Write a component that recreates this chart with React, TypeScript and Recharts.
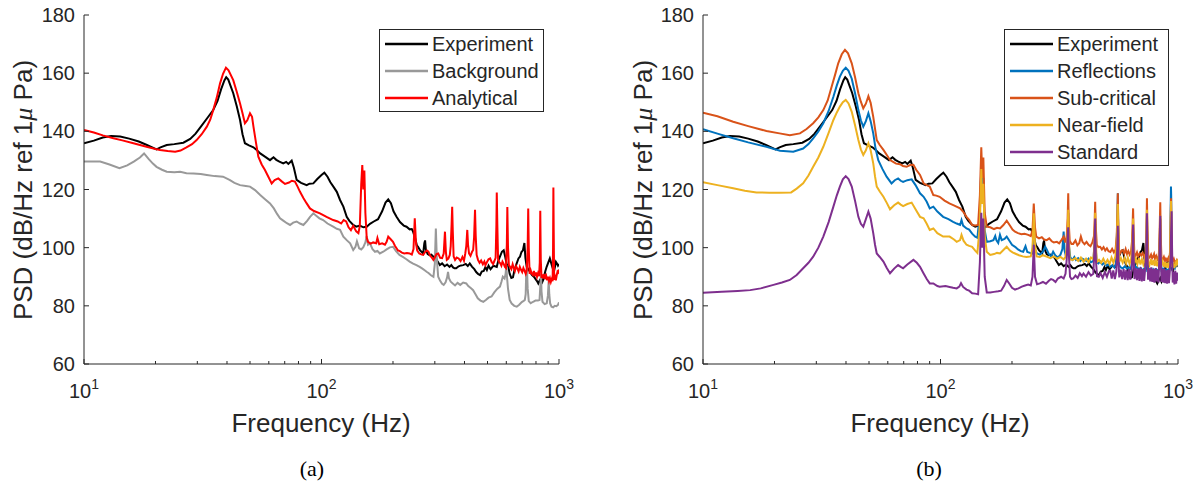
import { LineChart, Line, XAxis, YAxis, Legend } from "recharts";

type Pt = [number, number];

// [frequency Hz, PSD dB]
const experiment: Pt[] = [
  [10, 135.9], [11, 136.8], [12, 137.9], [13, 138.4], [14.2, 138.2], [15.5, 137.5], [17, 136.5], [18.4, 135.3],
  [20.2, 133.8], [21, 134.5], [22.3, 135.3], [24, 135.6], [26.2, 136.1], [28, 137.4], [29.5, 139.2], [31, 141.5],
  [33, 144.5], [35, 147.3], [36.5, 150.5], [37.8, 154.5], [39, 157.5], [39.7, 158.6], [40.5, 157.8], [42.5, 153.1],
  [44, 148.5], [45.4, 143.9], [46.5, 139], [47.6, 135.9], [49.5, 135.2], [51.7, 134.5], [53.5, 133.5], [55.2, 132.4],
  [58, 131.2], [60.7, 130.1], [62.8, 131.1], [64.5, 130.2], [66.5, 129.6], [69, 129], [71, 129.5], [72.5, 128.8],
  [74.9, 129.9], [76.5, 127.5], [78.6, 123.3], [82, 122.3], [86.6, 121.5], [89, 122], [92.4, 122.1], [96, 123.6],
  [100, 125], [102.8, 125.8], [106, 124.4], [109, 122.5], [112.2, 121], [116, 119.2], [119.7, 116.4], [123.6, 114.1],
  [127.7, 110.6], [131, 109.2], [136, 107.8], [140, 107.2], [145, 107.6], [150, 107], [155, 107.2], [160, 108.2],
  [166, 109], [173, 109.8], [180, 112.5], [186, 115.5], [191, 116.6], [196, 115.3], [201, 112.5], [207, 110.6],
  [214, 108.8], [222, 107.6], [228, 107.2], [235, 106.3], [240, 106.4], [243, 105.5], [248, 103.2], [252, 100.8],
  [255, 100.3], [260, 99.1], [265, 98.4], [268, 98], [271, 101.5], [273, 102.5], [275, 99.3], [280, 97.8],
  [285, 97.4], [290, 97.6], [296, 96.9], [302, 96.6], [308, 95.3], [315, 94], [322, 94.6], [330, 93.6],
  [338, 94.2], [346, 93.4], [352, 94], [358, 93.2], [363, 92.9], [369, 92.9], [378, 93.6], [387, 93.9],
  [395, 94], [405, 94.4], [413, 93.7], [421, 94.6], [430, 93.5], [440, 92.6], [448, 91.6], [456, 91],
  [465, 90.6], [473, 91.8], [482, 92], [490, 93.3], [497, 92.3], [505, 93.8], [515, 92.6], [530, 93.8],
  [547, 93.4], [555, 95.5], [564, 96.9], [575, 98.6], [585, 99.1], [593, 97], [602, 94.4], [612, 93.4],
  [620, 91], [630, 89.6], [640, 89.8], [650, 92.5], [663, 94.5], [675, 96.3], [685, 96.9], [695, 98.5],
  [705, 99.1], [715, 101.6], [722, 96.5], [731, 93.4], [745, 92.4], [757, 91.5], [770, 90.6], [784, 90],
  [797, 89.2], [808, 88.5], [818, 87.7], [830, 88.8], [842, 89.6], [852, 88.3], [862, 89.3], [875, 91.8],
  [888, 93.5], [900, 94.8], [915, 96.3], [928, 94.6], [940, 93], [952, 91.8], [962, 93.5], [971, 95.1],
  [980, 94.6], [990, 93.8], [1000, 94.4],
];

const background: Pt[] = [
  [10, 129.6], [11.7, 129.6], [12.8, 128.6], [14.1, 127.3], [15.2, 128.3], [16.2, 129.6], [17.2, 131], [17.9, 132.4],
  [18.7, 130.5], [19.5, 128.9], [20.2, 127.8], [21.3, 126.8], [22.3, 126.1], [24, 125.9], [25.4, 126.1], [27, 125.6],
  [28.9, 125.5], [31, 125.3], [32.9, 125], [35.5, 124.6], [38.5, 124.4], [41, 123.3], [43, 122.3], [45.4, 121.5],
  [48, 121.2], [50, 121], [52.5, 119.8], [55.2, 118.1], [58, 116.6], [60.7, 115.2], [63, 113.5], [65, 111.6],
  [66.9, 110.1], [69, 109.3], [71.5, 108.4], [73.7, 107.8], [76, 108.6], [78.6, 109], [81.2, 108.3], [83.9, 107.8],
  [87, 109.2], [89.5, 110.6], [92.4, 111.8], [95, 111], [98, 110.1], [101.6, 109.5], [106, 108.3], [112, 107.2],
  [116, 106.5], [119.7, 106.1], [123.6, 103.8], [128, 102.5], [132, 101.5], [136, 99.2], [139, 100.3], [141, 102.2],
  [144, 99.8], [147, 99.4], [150, 100.2], [153, 101.8], [155, 104], [157, 101], [160, 101.5], [164, 99.5],
  [168, 98.6], [172, 98.9], [176, 98], [182, 98.6], [188, 99.4], [194, 100.1], [200, 100.3], [206, 98.8],
  [213, 97.5], [220, 96.8], [227, 96.1], [235, 95.2], [243, 94.5], [251, 94], [259, 93.4], [266, 92.8],
  [271, 92.3], [277, 91.7], [283, 91.2], [289, 90.5], [296, 90], [300, 94.5], [303, 106.6], [306, 96],
  [310, 90], [316, 88.6], [322, 87.6], [327, 87.2], [333, 88.1], [338, 89.8], [341, 91.7], [344, 89.5],
  [350, 88.3], [357, 87.7], [365, 87], [374, 87.9], [384, 87.2], [395, 88], [407, 87.7], [415, 86.8],
  [425, 86.1], [435, 85.4], [445, 84], [455, 82.6], [467, 81.8], [480, 81.4], [492, 82], [505, 82.8],
  [520, 83.2], [534, 84.6], [549, 85.8], [564, 86.6], [572, 88.2], [580, 90], [590, 89.4], [596, 91],
  [600, 94], [604, 90], [610, 85.8], [620, 82], [632, 80.8], [648, 80], [664, 79.7], [680, 80.4],
  [697, 81.3], [710, 81.7], [718, 82], [724, 84], [728, 92], [733, 93.4], [738, 86], [746, 81.6],
  [760, 80.9], [778, 81.4], [796, 81.8], [815, 81.8], [828, 82], [836, 88], [840, 91.1], [844, 85],
  [852, 81.4], [870, 80.6], [888, 80.9], [898, 83.5], [905, 88.8], [910, 84], [918, 80.8], [930, 79.7],
  [945, 79.5], [960, 80], [975, 79.9], [990, 80.3], [1000, 81.2],
];

const analytical: Pt[] = [
  [10, 140.5], [11, 139.6], [12, 138.6], [13.3, 137.6], [14.5, 136.9], [16, 136], [17.2, 135.3], [18.5, 134.6],
  [20, 133.9], [20.9, 133.6], [22.5, 133.2], [24.2, 133], [25.5, 133.4], [27, 134.5], [28.5, 135.6], [29.8, 137],
  [31.3, 139], [32.9, 141.6], [34, 144], [35, 147.3], [36.2, 151.5], [37.4, 156.5], [38.5, 159.8], [39.6, 161.9],
  [40.6, 161], [42.5, 157.6], [44, 153.5], [45.4, 149.6], [46.5, 146.2], [47.6, 142.8], [48.7, 143.8], [50, 146.2],
  [51, 145], [51.7, 141.6], [53, 136], [54.2, 131.3], [56, 128.6], [57.8, 126.7], [59.8, 124.3], [61.7, 122.1],
  [63.5, 123.2], [65.8, 123.8], [68, 122.8], [70.2, 121.9], [73, 122.4], [75, 123], [77.3, 122.7], [79.3, 121],
  [81.2, 119.2], [84, 117], [86.5, 115.3], [89.4, 113.5], [93, 112.6], [98.5, 111.8], [105, 110.6], [112, 109.5],
  [117, 109], [121, 108.3], [124, 109.5], [127, 109], [130, 107], [133, 106], [136, 107.5], [140, 105.6],
  [143, 105], [145, 107.5], [147, 122], [148.5, 128.4], [150, 120], [151.5, 126.5], [153, 112], [155, 103.5],
  [157, 102], [161, 101.4], [165, 101.8], [170, 101.5], [172, 103.3], [175, 101.2], [180, 101.5], [185, 101],
  [188, 102], [191, 103.8], [196, 102.8], [200, 102], [204, 100.6], [207, 99.8], [210, 99], [213, 98.9],
  [218, 98.3], [223, 98], [229, 98.2], [235, 98], [240, 97.6], [244, 99.5], [247, 110.1], [250, 101.5],
  [253, 99], [258, 98], [263, 97.7], [268, 97.5], [273, 98.5], [278, 99], [282, 98.6], [287, 97.2],
  [292, 96.5], [296, 95.8], [300, 96.6], [305, 97.8], [310, 98], [316, 96.5], [322, 96.4], [327, 98],
  [331, 105.5], [334, 98.5], [337, 95.8], [342, 96.2], [347, 97.5], [350, 100.5], [353, 108], [355, 114.1],
  [357, 106], [360, 97], [365, 95.8], [371, 96.6], [378, 96.3], [385, 95.4], [392, 96.8], [398, 95.5],
  [403, 98], [407, 100.5], [411, 106.1], [414, 101], [418, 98], [424, 97.2], [430, 98.5], [435, 99.2],
  [439, 103.5], [443, 113], [446, 104], [450, 97.5], [456, 95.8], [463, 94.8], [470, 95.6], [478, 94.3],
  [485, 95.2], [490, 94], [497, 95], [505, 96], [513, 96.3], [520, 95.1], [528, 94.4], [535, 95.5],
  [541, 96.5], [545, 108], [547, 119], [550, 108], [554, 96], [560, 95], [566, 94.6], [572, 93.8],
  [578, 95.2], [585, 94.4], [592, 93.4], [598, 93], [603, 101], [606, 114], [610, 100], [615, 94],
  [622, 93.4], [630, 92.6], [638, 94.3], [645, 93], [652, 92], [660, 93.6], [668, 92.8], [676, 91.8],
  [684, 93.4], [692, 92.4], [700, 91.6], [708, 93], [716, 92], [724, 91], [732, 92.4], [738, 100],
  [742, 113.5], [746, 100], [752, 91], [760, 92.2], [768, 91], [776, 90.6], [784, 92], [792, 90.2],
  [800, 91.5], [808, 90], [816, 91.2], [824, 90.2], [830, 95], [834, 112.7], [838, 96], [844, 89.6],
  [852, 90.8], [860, 89.4], [868, 91], [876, 89.2], [884, 90.2], [892, 88.8], [900, 90], [908, 88.5],
  [916, 89.5], [924, 88.2], [932, 89.2], [940, 88.5], [944, 100], [947, 120.7], [950, 106], [954, 89],
  [962, 90], [970, 88.8], [978, 90.5], [986, 91.8], [994, 91.5], [1000, 92.5],
];

const reflections: Pt[] = [
  [10, 140.7], [11.5, 139.2], [13.4, 137.6], [15.5, 136.2], [18.5, 134.7], [21.1, 133.3], [24, 133], [26.4, 134.1],
  [27.8, 135.6], [29.1, 137.6], [30.6, 140], [32.1, 142.8], [33.8, 147], [35.4, 151.9], [36.6, 155.8], [37.7, 158.8],
  [38.8, 160.8], [39.9, 161.9], [41, 160.8], [42.3, 158.1], [43.7, 153], [45.1, 147.3], [46.2, 143.8], [47.3, 141.6],
  [48.5, 143.5], [49.7, 146.2], [50.8, 143.5], [52.1, 139.3], [53.3, 134], [54.7, 130.1], [57, 127], [59.3, 124.4],
  [62.2, 122.1], [64.2, 123.2], [66.3, 123.8], [68, 123], [69.6, 122.6], [72.5, 123.2], [75.6, 123.5], [78.5, 121.5],
  [82, 118.7], [84.9, 117.5], [87.5, 115.8], [90.1, 113.5], [93.3, 114.1], [97, 112.4], [102.6, 110.6], [108, 109.8],
  [113, 108.9], [117, 108.3], [120.9, 107.8], [122.6, 109.5], [124.5, 107.6], [128.7, 106.6], [132, 106.2], [135.9, 104.8],
  [140, 103.8], [143, 103.4], [146.5, 112], [148.5, 128], [150, 118], [151.5, 124], [153.5, 106], [156.6, 102],
  [162, 102.2], [167, 102.6], [170, 104], [172, 102.5], [175, 101.6], [178, 104.4], [181, 102.6], [186, 103],
  [190, 103.8], [195, 102.4], [200, 101], [206, 100.3], [212, 99.4], [218, 98.8], [223, 98.6], [228, 100.5],
  [232, 98.5], [238, 98.2], [244, 98], [247, 108], [250, 99.2], [255, 98], [262, 97.6], [270, 98.6],
  [276, 100.3], [280, 99.4], [286, 97.8], [292, 97], [298, 98.6], [304, 97.4], [312, 96.6], [320, 97.6],
  [326, 99.5], [330, 105.5], [333, 99], [338, 96.9], [343, 100], [345, 112], [347, 101], [352, 96.6],
  [360, 95.8], [366, 96.8], [372, 95.8], [380, 96.4], [388, 95.4], [396, 96.2], [404, 95.8], [412, 95.4],
  [420, 96.2], [430, 95], [440, 95.4], [446, 102], [448, 110], [450, 100], [455, 95], [462, 94.6],
  [470, 95.2], [480, 94.2], [490, 94.8], [500, 93.8], [510, 94.2], [519, 93.4], [530, 94], [540, 93.2],
  [548, 94.6], [553, 104], [556, 112], [558, 118.7], [560, 108], [565, 94], [574, 93.2], [586, 92.9],
  [598, 93.6], [610, 92.8], [622, 93.4], [634, 92.6], [642, 96], [647, 108], [652, 96], [660, 92.8],
  [672, 93.4], [684, 92.4], [696, 93], [708, 92.2], [720, 92.8], [732, 92.3], [737, 100], [740, 112],
  [743, 100], [750, 92], [762, 92.6], [774, 91.8], [786, 92.6], [798, 92], [810, 92.6], [822, 92],
  [834, 92.6], [838, 100], [842, 110], [846, 98], [852, 92.3], [866, 92.8], [880, 92], [894, 92.6],
  [906, 92], [918, 92.8], [926, 96], [930, 110], [934, 121], [936, 118], [940, 100], [946, 93],
  [958, 93.6], [970, 93], [980, 94.6], [990, 94], [1000, 94.4],
];

const subCritical: Pt[] = [
  [10, 146.4], [11.5, 145.2], [13.4, 143.3], [15.5, 141.8], [18.5, 140.1], [21, 139.3], [23.2, 138.7], [25.6, 139.3],
  [27.3, 140.8], [29.1, 142.8], [30.6, 144.8], [32.1, 147.3], [33.5, 150.6], [34.8, 155.3], [36, 159.5], [37.1, 163.4],
  [38.4, 166.5], [39.6, 168], [40.8, 166.8], [42.3, 163.4], [43.7, 158.5], [45.1, 153.1], [46.2, 150.2], [47.3, 147.9],
  [48.5, 149.5], [49.7, 152.1], [50.8, 149.8], [52.1, 145], [53.9, 137], [55.5, 135.3], [57.5, 133.6], [59.5, 131.8],
  [61.3, 130.1], [63.2, 129.5], [65, 128.9], [67.5, 128.7], [69.5, 128.1], [72, 127.8], [74.5, 128.4], [76.9, 128.5],
  [79, 126.8], [82, 125], [84.9, 122.1], [87.5, 121.5], [90.1, 121], [93.3, 118.1], [96, 117.9], [99.2, 117.5],
  [104, 116.2], [109, 115.2], [115, 114.4], [120.9, 113.5], [125, 112.2], [128.7, 110.6], [132, 109.6], [135.9, 107.8],
  [140, 107.6], [144, 107.8], [146.5, 118], [148.5, 134.5], [150, 124], [151.5, 131], [153.5, 112], [156.6, 107.2],
  [162, 107], [168, 106.4], [173, 106.8], [178, 106.6], [184, 107.8], [190, 109.3], [196, 107.6], [201, 106.2],
  [206, 105.5], [212, 105], [219, 104.6], [226, 104.8], [234, 104.4], [240, 104], [244, 106], [247, 115.2],
  [250, 107], [253, 103.8], [260, 103.2], [267, 103.6], [273, 102.8], [280, 102.6], [287, 103.2], [294, 102.2],
  [300, 101.8], [309, 102], [316, 101.5], [323, 102.6], [330, 103.8], [335, 101.8], [340, 104], [343, 110],
  [345, 118.7], [347, 108], [350, 102.4], [356, 101.3], [362, 101.3], [370, 102.5], [377, 100.8], [384, 101.6],
  [390, 103.8], [396, 102], [404, 101.2], [412, 102], [420, 101], [428, 100.5], [436, 101.8], [443, 104],
  [446, 110], [448, 115.8], [450, 108], [455, 101], [462, 100.2], [470, 100.3], [478, 99.4], [486, 100.2],
  [494, 99], [502, 99.8], [510, 98.8], [519, 98.5], [528, 99.6], [537, 98.4], [546, 99.4], [552, 104],
  [556, 112], [558, 118.7], [560, 110], [565, 99], [572, 98.2], [580, 99.1], [586, 99.1], [594, 98],
  [602, 99.5], [610, 97.8], [618, 98.8], [626, 97.6], [634, 98.6], [640, 102], [644, 108], [647, 113.5],
  [650, 106], [655, 98], [663, 97.2], [672, 98.4], [680, 97], [690, 98], [700, 97.3], [710, 98.2],
  [720, 96.8], [730, 97.8], [736, 104], [740, 117], [744, 106], [750, 97], [760, 96.6], [770, 97.6],
  [778, 96.4], [785, 96.9], [793, 97.8], [800, 96.2], [810, 97.2], [820, 96], [830, 97], [836, 104],
  [842, 115.6], [846, 104], [852, 96], [862, 95.8], [872, 96.8], [882, 95.4], [890, 96.2], [900, 95.5],
  [910, 96.4], [920, 95.2], [928, 100], [932, 110], [935, 117], [938, 108], [942, 96], [950, 95.4],
  [960, 96.2], [970, 95], [980, 95], [990, 95.8], [1000, 95.2],
];

const nearField: Pt[] = [
  [10, 122.5], [11.5, 121.5], [13.4, 120.4], [15, 119.6], [16.8, 119], [19, 118.9], [21, 118.9], [23.5, 119],
  [24.8, 120.3], [26.4, 122.1], [27.8, 124.8], [29.1, 127.8], [30.6, 131], [32.1, 134.7], [33.8, 139.5], [35.4, 143.9],
  [36.6, 146.5], [37.7, 148.5], [38.8, 150], [39.9, 150.8], [41, 149.6], [42.3, 146.7], [43.7, 142], [45.1, 137],
  [46.2, 133.8], [47.3, 131.9], [48.5, 133.5], [49.7, 135.9], [50.8, 133.5], [52.1, 129], [53, 124.5], [53.9, 121],
  [55.5, 119.3], [57.5, 117.5], [59.4, 115.4], [61.3, 113.2], [63.8, 114.6], [66.3, 115.5], [68, 114.8], [69.6, 114.3],
  [72.5, 115], [75.6, 115.5], [78.5, 113.2], [82, 110.6], [84.9, 110.1], [87.5, 108.2], [90.1, 106.1], [93.3, 106.6],
  [97, 105], [102.6, 103.8], [109.2, 103.8], [114, 102.8], [117, 102], [120.9, 102.6], [122.6, 104.4], [125, 102.4],
  [128.7, 101], [132, 100.6], [135.9, 100.3], [140, 99], [143, 98.2], [146.5, 108], [148.5, 127], [150, 115],
  [151.5, 122], [153.5, 104], [156.6, 98.6], [162, 97.5], [168, 97.8], [173, 98.2], [178, 98], [184, 99.2],
  [190, 100.3], [196, 99], [201, 98.4], [206, 98], [214, 97.4], [222, 97], [230, 96.8], [234, 96.9],
  [240, 97], [244, 100], [247, 111.8], [250, 101], [254, 97], [262, 96.8], [270, 97.4], [280, 96.9],
  [290, 96.4], [300, 97], [310, 96.2], [320, 96.8], [330, 96], [336, 96.8], [340, 100], [343, 106],
  [345, 113], [347, 104], [350, 96], [360, 95.8], [370, 96.4], [380, 95.4], [390, 96.6], [400, 95.2],
  [410, 96.2], [420, 95], [430, 96.6], [440, 96], [444, 100], [448, 112], [451, 102], [455, 95],
  [465, 95.8], [475, 94.8], [485, 96.2], [495, 94.6], [505, 95.8], [515, 94.4], [525, 96.6], [535, 94.8],
  [545, 97], [552, 102], [556, 110], [558, 115], [560, 106], [565, 95], [575, 96.4], [585, 94.8],
  [595, 96.4], [605, 94.6], [615, 96.6], [625, 94.4], [635, 96.2], [641, 101], [645, 106], [647, 110],
  [650, 102], [655, 94.6], [665, 96.2], [675, 94.4], [685, 96.4], [695, 94.2], [705, 96], [715, 94.2],
  [725, 95.8], [732, 98], [736, 106], [740, 113], [743, 104], [748, 95], [758, 94], [768, 96],
  [778, 94], [788, 95.8], [798, 93.8], [808, 95.4], [818, 93.6], [828, 95.2], [835, 101], [839, 106],
  [842, 111], [846, 100], [852, 94], [862, 95.2], [872, 93.4], [882, 95], [892, 93.2], [902, 94.8],
  [912, 93], [922, 94.8], [928, 102], [932, 110], [935, 116], [938, 106], [944, 94], [955, 94.4],
  [965, 93], [975, 94.6], [985, 93.6], [993, 96], [1000, 94],
];

const standard: Pt[] = [
  [10, 84.5], [12, 84.8], [14, 85.1], [15.8, 85.4], [17.5, 86], [19.8, 87.2], [21.5, 88], [23.2, 88.9],
  [24.8, 90.6], [26.4, 92.9], [27.8, 94.8], [29.1, 96.9], [30.6, 100], [32.1, 103.8], [33.8, 108.8], [35.4, 114.1],
  [36.6, 118], [37.7, 121], [38.8, 123.5], [39.9, 124.6], [41, 123.6], [42.3, 121], [43.7, 116], [45.1, 110.6],
  [46.2, 108.2], [47.3, 107.2], [48.5, 109.8], [49.7, 112.4], [50.8, 110], [52.1, 105], [53, 101], [53.9, 98],
  [55.5, 96.8], [57.5, 95.2], [59.4, 93], [61.3, 91.2], [63.8, 92.8], [66.3, 94], [68, 93.4], [69.6, 92.9],
  [72.5, 94.2], [76.9, 95.8], [79.5, 94.8], [82, 93.4], [84.9, 91.1], [87.5, 89.2], [90.1, 87.7], [93.3, 87.7],
  [97, 86.8], [99.2, 86.6], [105, 86.8], [109.2, 86.5], [113, 86.2], [117, 86], [120, 86.6], [122, 87.8],
  [124.5, 86.5], [128.7, 85.6], [132, 85.2], [135.9, 84.3], [140, 84.2], [144, 84], [146.5, 95], [148.5, 112],
  [150, 100], [151.5, 110], [153.5, 90], [156.6, 84.6], [162, 84.6], [168, 84.8], [175, 85], [180, 85.2],
  [185, 86.8], [190, 88.9], [195, 87.6], [200, 86.2], [206, 85.6], [213, 86], [220, 86.6], [227, 87],
  [234, 87.3], [240, 87], [244, 90], [247, 101], [250, 90], [255, 87.4], [262, 87.7], [270, 88.2],
  [278, 87.6], [286, 88.6], [292, 89.2], [298, 88.9], [305, 88.2], [312, 89.4], [322, 90], [330, 89.4],
  [336, 91], [340, 96], [343, 104], [345, 107], [347, 98], [351, 90], [356, 89.2], [362, 89.4],
  [370, 90.4], [378, 89.6], [386, 91.2], [394, 90.2], [400, 91.1], [410, 90], [420, 91.6], [430, 90.4],
  [440, 91], [444, 98], [448, 110], [451, 96], [456, 90.2], [464, 90], [472, 91.2], [482, 89.6],
  [492, 91.6], [502, 90], [512, 92], [519, 92], [526, 89.4], [534, 92.2], [542, 89.2], [550, 91.8],
  [554, 98], [558, 107.5], [561, 96], [566, 89.8], [574, 92.4], [582, 89.2], [590, 92.6], [598, 89],
  [606, 92.4], [614, 88.8], [622, 92.6], [630, 89], [638, 92.4], [643, 98], [647, 108], [651, 96],
  [656, 89.2], [664, 93], [672, 88.8], [680, 92.8], [688, 88.6], [696, 93.2], [704, 88.4], [712, 92.6],
  [720, 88.6], [728, 93], [734, 98], [738, 106], [740, 111.8], [743, 100], [748, 89], [756, 92.8],
  [764, 88.4], [772, 93.2], [780, 88.2], [788, 92.6], [796, 88], [804, 93], [812, 88.4], [820, 92.4],
  [828, 88], [834, 96], [838, 104], [842, 111], [846, 98], [852, 88.2], [860, 92.6], [868, 88],
  [876, 92.8], [884, 87.8], [892, 92.2], [900, 87.6], [908, 92.4], [916, 87.8], [924, 92], [930, 96],
  [935, 105], [940, 112.5], [944, 100], [950, 88], [958, 91.6], [966, 87.4], [974, 92], [982, 87.6],
  [990, 91.4], [1000, 88.6],
];

const xTicks = [10, 20, 30, 40, 50, 60, 70, 80, 90, 100, 200, 300, 400, 500, 600, 700, 800, 900, 1000];
const yTicks = [60, 80, 100, 120, 140, 160, 180];

const seriesA = [
  { name: "Experiment", color: "#000000", pts: experiment },
  { name: "Background", color: "#999999", pts: background },
  { name: "Analytical", color: "#ff0000", pts: analytical },
];
const seriesB = [
  { name: "Experiment", color: "#000000", pts: experiment },
  { name: "Reflections", color: "#0072BD", pts: reflections },
  { name: "Sub-critical", color: "#D95319", pts: subCritical },
  { name: "Near-field", color: "#EDB120", pts: nearField },
  { name: "Standard", color: "#7E2F8E", pts: standard },
];

const AX = "#262626";
const SANS = '"Liberation Sans", Arial, Helvetica, sans-serif';
const SERIF = '"Liberation Serif", "Times New Roman", serif';

const rows = (pts: Pt[]) => pts.map(([f, v]) => ({ f, v }));

function XTick(props: any) {
  const { x, y, payload } = props;
  const lg = Math.log10(payload.value);
  const major = Math.abs(lg - Math.round(lg)) < 1e-6;
  return (
    <g>
      <line x1={x} y1={y} x2={x} y2={y - (major ? 5 : 3)} stroke={AX} strokeWidth={1} />
      {major && (
        <text x={x} y={y + 34} textAnchor="middle" fontSize={20} fill={AX} fontFamily={SANS}>
          10
          <tspan fontSize={14} dy={-9}>
            {Math.round(lg)}
          </tspan>
        </text>
      )}
    </g>
  );
}

function YTick(props: any) {
  const { x, y, payload } = props;
  return (
    <g>
      <line x1={x} y1={y} x2={x + 5} y2={y} stroke={AX} strokeWidth={1} />
      <text x={x - 9} y={y} dy="0.35em" textAnchor="end" fontSize={20} fill={AX} fontFamily={SANS}>
        {payload.value}
      </text>
    </g>
  );
}

function LegendBox({ items }: { items: { name: string; color: string }[] }) {
  const h = items.length * 27 + 2;
  return (
    <svg width={165} height={h} style={{ display: "block" }}>
      <rect x={0.5} y={0.5} width={164} height={h - 1} fill="#ffffff" stroke={AX} strokeWidth={1} />
      {items.map((it, i) => {
        const cy = 15 + i * 27;
        return (
          <g key={it.name}>
            <line x1={6} y1={cy} x2={49} y2={cy} stroke={it.color} strokeWidth={2.5} />
            <text x={53} y={cy} dy="0.35em" fontSize={20} fill={AX} fontFamily={SANS}>
              {it.name}
            </text>
          </g>
        );
      })}
    </svg>
  );
}

function Panel({
  series,
  width,
  margin,
  legendLeft,
}: {
  series: { name: string; color: string; pts: Pt[] }[];
  width: number;
  margin: { top: number; right: number; bottom: number; left: number };
  legendLeft: number;
}) {
  return (
    <LineChart width={width} height={488} margin={margin}>
      <XAxis
        dataKey="f"
        type="number"
        scale="log"
        domain={[10, 1000]}
        allowDataOverflow
        ticks={xTicks}
        interval={0}
        height={30}
        tickSize={0}
        tickMargin={0}
        tickLine={false}
        axisLine={{ stroke: AX, strokeWidth: 1 }}
        tick={<XTick />}
      />
      <YAxis
        type="number"
        domain={[60, 180]}
        allowDataOverflow
        ticks={yTicks}
        interval={0}
        width={60}
        tickSize={0}
        tickMargin={0}
        tickLine={false}
        axisLine={{ stroke: AX, strokeWidth: 1 }}
        tick={<YTick />}
      />
      {series.map((s, i) => (
        <Line
          key={s.name + i}
          data={rows(s.pts)}
          dataKey="v"
          name={s.name}
          type="linear"
          stroke={s.color}
          strokeWidth={2}
          dot={false}
          activeDot={false}
          isAnimationActive={false}
        />
      ))}
      <Legend
        layout="horizontal"
        verticalAlign="middle"
        align="center"
        wrapperStyle={{ position: "absolute", left: legendLeft, top: 29, width: 165 }}
        content={() => <LegendBox items={series} />}
      />
    </LineChart>
  );
}

export default function App() {
  return (
    <div style={{ position: "absolute", left: 0, top: 0, width: 1201, height: 488, background: "#ffffff" }}>
      <div style={{ position: "absolute", left: 0, top: 0 }}>
        <Panel series={seriesA} width={600} margin={{ top: 15, right: 41, bottom: 94, left: 24 }} legendLeft={379} />
      </div>
      <div style={{ position: "absolute", left: 600, top: 0 }}>
        <Panel series={seriesB} width={601} margin={{ top: 15, right: 23, bottom: 94, left: 43 }} legendLeft={404} />
      </div>
      <svg width={1201} height={488} style={{ position: "absolute", left: 0, top: 0, pointerEvents: "none" }}>
        {[
          { cx: 321, ly: 32, cap: 312 },
          { cx: 940, ly: 652, cap: 929 },
        ].map((p, i) => (
          <g key={i} fill={AX}>
            <text x={p.cx} y={432} textAnchor="middle" fontSize={26} fontFamily={SANS}>
              Frequency (Hz)
            </text>
            <text
              x={p.ly}
              y={190}
              textAnchor="middle"
              fontSize={26}
              fontFamily={SANS}
              transform={`rotate(-90 ${p.ly} 190)`}
            >
              PSD (dB/Hz ref 1<tspan fontStyle="italic" fontFamily={SERIF}>μ</tspan> Pa)
            </text>
            <text x={p.cap} y={476} textAnchor="middle" fontSize={22} fontFamily={SERIF} fill="#000000">
              {i === 0 ? "(a)" : "(b)"}
            </text>
          </g>
        ))}
      </svg>
    </div>
  );
}
